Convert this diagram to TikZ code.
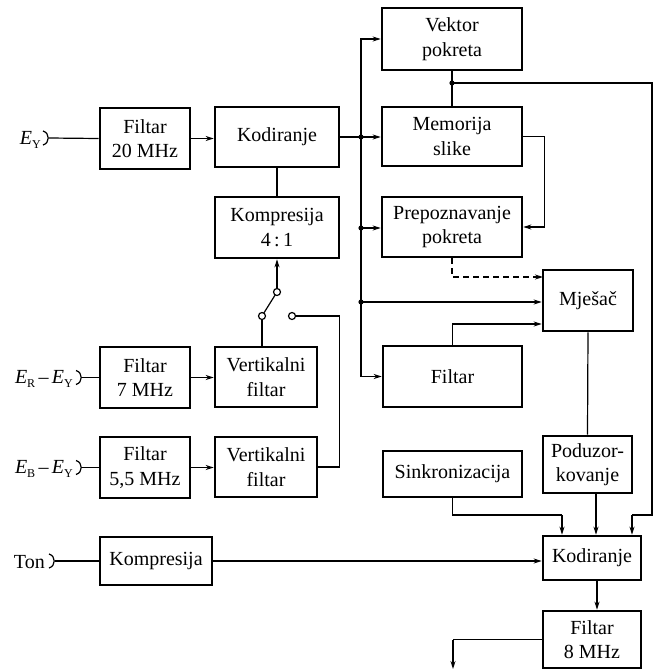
\documentclass[tikz,border=0pt]{standalone}
\usepackage{fontspec}
\setmainfont{Liberation Serif}
\usetikzlibrary{arrows.meta}
\newcommand\subY[1]{\raisebox{-3.5pt}{\fontsize{12}{12}\selectfont #1}}
\begin{document}
\begin{tikzpicture}[x=1pt,y=-1pt,
  box/.style={draw, line width=2.6pt, inner sep=0pt, align=center, font=\fontsize{20}{24.5}\selectfont},
  ln/.style={line width=1.2pt},
  arr/.style={ln, -{Stealth[length=8pt,width=5pt]}},
  contact/.style={circle, draw, line width=1.2pt, inner sep=0pt, minimum size=7pt, fill=white},
  lab/.style={font=\fontsize{20}{24}\selectfont, inner sep=0pt, anchor=east}]
\useasboundingbox (0,0) rectangle (666,670);

% boxes
\node[box, minimum width=90pt, minimum height=61pt] (f20) at (145,138.5) {Filtar\\20 MHz};
\node[box, minimum width=124pt, minimum height=60pt] (kod1) at (277,137) {Kodiranje};
\node[box, minimum width=124pt, minimum height=61pt] (komp41) at (277,227.5) {Kompresija\\4\,:\,1};
\node[box, minimum width=140pt, minimum height=62pt] (vek) at (452,39) {Vektor\\pokreta};
\node[box, minimum width=140pt, minimum height=59pt] (mem) at (452,136.5) {Memorija\\slike};
\node[box, minimum width=140pt, minimum height=60pt] (prep) at (452,227) {Prepoznavanje\\pokreta};
\node[box, minimum width=90pt, minimum height=61pt] (mjes) at (588,300.5) {Mješač};
\node[box, minimum width=139pt, minimum height=61pt] (filt) at (452.5,376.5) {Filtar};
\node[box, minimum width=90pt, minimum height=61pt] (f7) at (145,377.5) {Filtar\\7 MHz};
\node[box, minimum width=102pt, minimum height=60pt] (vf1) at (266,377) {Vertikalni\\filtar};
\node[box, minimum width=90pt, minimum height=61pt] (f55) at (145,467.5) {Filtar\\5,5 MHz};
\node[box, minimum width=102pt, minimum height=60pt] (vf2) at (266,467) {Vertikalni\\filtar};
\node[box, minimum width=139pt, minimum height=46pt] (sink) at (452.5,474) {Sinkronizacija};
\node[box, minimum width=89pt, minimum height=57pt] (podz) at (587.5,464.5) {Poduzor-\\kovanje};
\node[box, minimum width=112pt, minimum height=48pt] (komp) at (156,561) {Kompresija};
\node[box, minimum width=98pt, minimum height=44pt] (kod2) at (592,558) {Kodiranje};
\node[box, minimum width=98pt, minimum height=57pt] (f8) at (592,639.5) {Filtar\\8 MHz};

% input labels
\node[lab] (ley) at (41,140) {\textit{E}\subY{Y}};
\node[lab] (leryl) at (73,379) {\textit{E}\subY{R}\,–\,\textit{E}\subY{Y}};
\node[lab] (lebyl) at (73,469) {\textit{E}\subY{B}\,–\,\textit{E}\subY{Y}};
\node[lab] (lton) at (45,562) {Ton};

% input plugs
\coordinate (iy) at (49,138);
\coordinate (ir) at (82,377.5);
\coordinate (ib) at (82,467.5);
\coordinate (it) at (55,561);
\foreach \p in {iy,ir,ib,it}{
  \draw[ln] ([shift={(-6,-7)}]\p) .. controls ([shift={(1,-5)}]\p) and ([shift={(1,5)}]\p) .. ([shift={(-6,7)}]\p);
}
\draw[ln] (iy) -- (f20.west);
\draw[ln] (ir) -- (f7.west);
\draw[ln] (ib) -- (f55.west);
\draw[ln] (it) -- (komp.west);

% left chain
\draw[arr] (f20.east) -- (f20.east -| kod1.west);
\draw[ln] (komp41.north) -- (kod1.south);
\draw[arr] (f7.east) -- (f7.east -| vf1.west);
\draw[arr] (f55.east) -- (f55.east -| vf2.west);

% switch
\coordinate (sp) at (277,292);
\coordinate (c1) at (262,316);
\coordinate (c2) at (292,316);
\draw[ln] (c1) -- (c1 |- vf1.north);
\draw[ln] (c1) -- (sp);
\draw[arr] (sp) -- (sp |- komp41.south);
\draw[ln] (vf2.east) -- ++(21,0) coordinate (vfb) |- (c2);
\node[contact] (sw1) at (c1) {};
\node[contact] (sw2) at (c2) {};
\node[contact] (sw3) at (sp) {};

% bus
\coordinate (j1) at (361,137);
\coordinate (j2) at (361,228);
\coordinate (j3) at (361,302);
\draw[ln] (kod1.east) -- (j1);
\draw[arr] (j1) -- (j1 -| mem.west);
\draw[arr] (j1) |- (vek.west);
\draw[arr] (j1) |- (filt.west);
\draw[arr] (j2) -- (j2 -| prep.west);
\draw[arr] (j3) -- (j3 -| mjes.west);
\foreach \j in {j1,j2,j3} \fill (\j) circle (2.6pt);

% right section
\draw[arr] (mem.east) -- ++(21,0) |- (prep.east);
\coordinate (jv) at (452,83);
\draw[ln] (vek.south) -- (mem.north);
\fill (jv) circle (2.6pt);
\coordinate (rk) at (632,515);
\draw[ln] (jv) -- (652,83) -- (652,515) -- (rk);
\draw[arr] (rk) -- (rk |- kod2.north);
\draw[arr, dashed, dash pattern=on 6pt off 4pt] (prep.south) |- (543,277);
\coordinate (fm) at (453,324);
\draw[arr] (filt.north) |- (fm -| mjes.west);
\draw[ln] (mjes.south) -- (podz.north);
\coordinate (pk) at (596,493);
\draw[arr] (pk) -- (pk |- kod2.north);
\coordinate (sk) at (562,515);
\draw[ln] (sink.south) |- (sk);
\draw[arr] (sk) -- (sk |- kod2.north);
\draw[arr] (komp.east) -- (komp.east -| kod2.west);
\coordinate (kf) at (597,580);
\draw[arr] (kf) -- (kf |- f8.north);
\coordinate (out) at (453,669);
\draw[ln] (f8.west) -- (f8.west -| out);
\draw[arr] (f8.west -| out) -- (out);
\end{tikzpicture}
\end{document}
